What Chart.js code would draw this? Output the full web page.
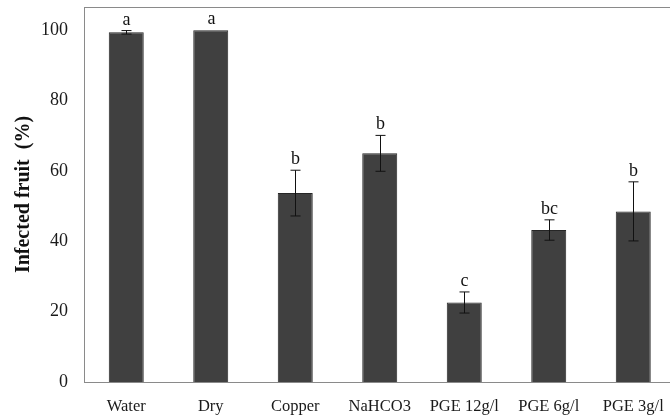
<!DOCTYPE html>
<html>
<head>
<meta charset="utf-8">
<script src="https://cdn.jsdelivr.net/npm/chart.js@4/dist/chart.umd.min.js"></script>
<style>
  html, body { margin: 0; padding: 0; background: #fff; overflow: hidden; }
  #wrap { width: 690px; height: 415px; }
  canvas { display: block; }
</style>
</head>
<body>
<div id="wrap"><canvas id="c" width="690" height="415" style="width:690px;height:415px"></canvas></div>
<script>
// Treatments and infection results
const categories = ['Water', 'Dry', 'Copper', 'NaHCO3', 'PGE 12g/l', 'PGE 6g/l', 'PGE 3g/l'];
const infected = [99.4, 100, 53.7, 65.0, 22.6, 43.2, 48.5];
const stdErr = [0.5, 0, 6.5, 5.1, 3.0, 2.9, 8.4];
const groupLetters = ['a', 'a', 'b', 'b', 'c', 'bc', 'b'];
const yTicks = [0, 20, 40, 60, 80, 100];

const SERIF = '"Liberation Serif", "Times New Roman", serif';

// Error bars and significance letters
const errorBarPlugin = {
  id: 'errorBars',
  afterDatasetsDraw(chart) {
    const ctx = chart.ctx;
    const x = chart.scales.x, y = chart.scales.y;
    ctx.save();
    ctx.strokeStyle = '#111';
    ctx.lineWidth = 1;
    infected.forEach((v, i) => {
      const cx = Math.round(x.getPixelForValue(i)) + 0.5;
      const top = y.getPixelForValue(v + stdErr[i]);
      const bot = y.getPixelForValue(v - stdErr[i]);
      if (stdErr[i] > 0) {
        ctx.beginPath();
        ctx.moveTo(cx, top); ctx.lineTo(cx, bot);
        ctx.moveTo(cx - 5, top); ctx.lineTo(cx + 5, top);
        ctx.moveTo(cx - 5, bot); ctx.lineTo(cx + 5, bot);
        ctx.stroke();
      }
      ctx.fillStyle = '#111';
      ctx.font = '18px ' + SERIF;
      ctx.textAlign = 'center';
      ctx.textBaseline = 'alphabetic';
      ctx.fillText(groupLetters[i], cx, top - 6);
    });
    ctx.restore();
  }
};

// Gray frame around the plot area
const framePlugin = {
  id: 'frame',
  afterDraw(chart) {
    const a = chart.chartArea;
    const ctx = chart.ctx;
    ctx.save();
    ctx.strokeStyle = '#8a8a8a';
    ctx.lineWidth = 1;
    ctx.strokeRect(Math.round(a.left) + 0.5, Math.round(a.top) + 0.5,
                   Math.round(a.right - a.left), Math.round(a.bottom - a.top));
    ctx.restore();
  }
};

new Chart(document.getElementById('c'), {
  type: 'bar',
  data: {
    labels: categories,
    datasets: [{
      data: infected,
      backgroundColor: '#404040',
      borderColor: '#262626',
      borderWidth: 1,
      barPercentage: 0.414,
      categoryPercentage: 1.0
    }]
  },
  options: {
    responsive: false,
    animation: false,
    devicePixelRatio: 1,
    layout: { padding: { top: 7, left: 0, right: 14.5, bottom: 0 } },
    plugins: { legend: { display: false }, tooltip: { enabled: false } },
    scales: {
      x: {
        grid: { display: false, drawTicks: false },
        border: { display: false },
        ticks: {
          color: '#1a1a1a',
          font: { family: SERIF, size: 16.5 },
          padding: 15,
          maxRotation: 0,
          autoSkip: false
        },
        afterFit(scale) { scale.height = 33; scale.paddingLeft = 0; scale.paddingRight = 0; }
      },
      y: {
        min: 0,
        max: 106.6,
        grid: { display: false, drawTicks: false },
        border: { display: false },
        afterBuildTicks(scale) { scale.ticks = yTicks.map(v => ({ value: v })); },
        ticks: {
          color: '#1a1a1a',
          font: { family: SERIF, size: 18 },
          padding: 16
        },
        title: {
          display: true,
          text: 'Infected fruit  (%)',
          color: '#111',
          font: { family: SERIF, size: 20, weight: 'bold' },
          padding: { top: 12, bottom: 0 }
        },
        afterFit(scale) { scale.width = 84; scale.paddingTop = 0; scale.paddingBottom = 0; }
      }
    }
  },
  plugins: [errorBarPlugin, framePlugin]
});
</script>
</body>
</html>
